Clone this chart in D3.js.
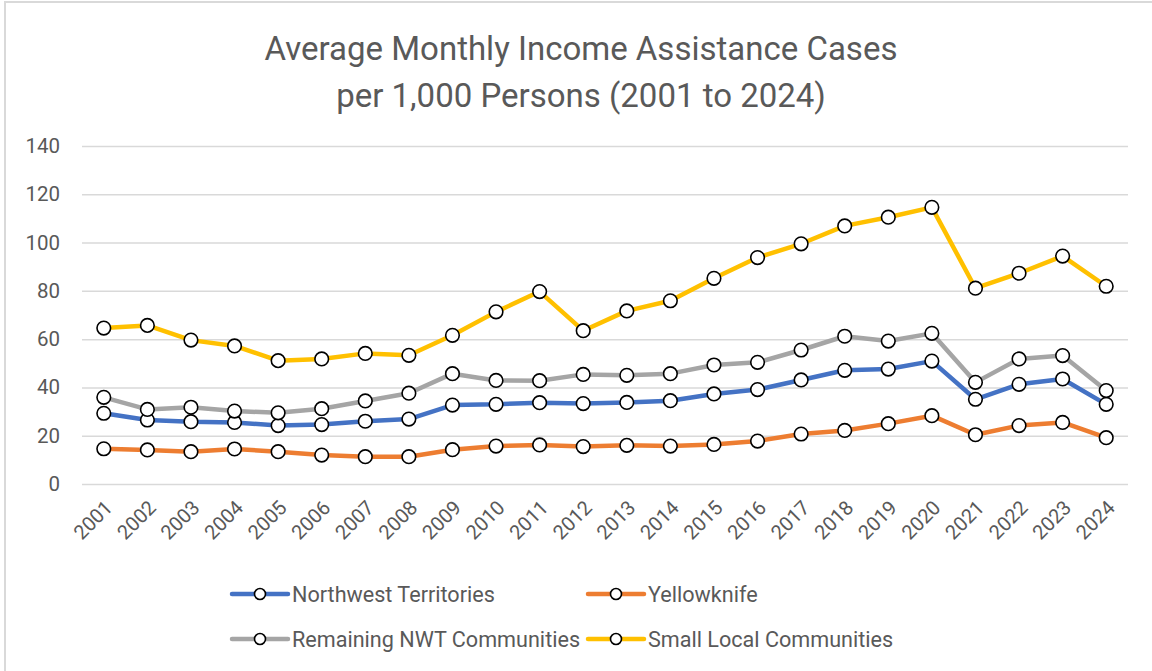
<!DOCTYPE html>
<html lang="en">
<head>
    <meta charset="UTF-8">
    <script src="https://d3js.org/d3.v7.min.js"></script>
    <title>Income Assistance Cases</title>
    <style>
        body { margin: 0; background: #fff; }
        text { font-family: Roboto, "Liberation Sans", sans-serif; fill: #595959; }
    </style>
</head>
<body>
    <div id="chart"></div>
<script>
    const years = ["2001","2002","2003","2004","2005","2006","2007","2008","2009","2010","2011","2012",
                   "2013","2014","2015","2016","2017","2018","2019","2020","2021","2022","2023","2024"];
    const nwt       = [29.3,26.5,25.8,25.5,24.2,24.6,26.0,26.9,32.7,33.0,33.7,33.3,33.8,34.5,37.3,39.1,43.1,47.1,47.6,50.9,35.1,41.3,43.5,33.0];
    const yknife    = [14.6,14.1,13.4,14.5,13.4,12.0,11.3,11.3,14.2,15.7,16.2,15.5,16.0,15.7,16.4,17.8,20.7,22.2,25.0,28.3,20.4,24.2,25.5,19.2];
    const remaining = [35.9,30.9,31.8,30.2,29.5,31.2,34.4,37.6,45.7,42.9,42.8,45.4,45.0,45.7,49.3,50.4,55.5,61.2,59.2,62.4,42.1,51.8,53.2,38.7];
    const small     = [64.6,65.7,59.6,57.2,51.1,51.8,54.1,53.3,61.6,71.3,79.7,63.5,71.7,75.9,85.2,93.8,99.5,106.9,110.5,114.6,81.1,87.3,94.4,81.9];
    const yTicks = [0,20,40,60,80,100,120,140];

    const seriesNames = ["Northwest Territories","Yellowknife","Remaining NWT Communities","Small Local Communities"];
    const seriesData = [nwt, yknife, remaining, small];
    const colors = ["#4472C4","#ED7D31","#A5A5A5","#FFC000"];

    const W = 1152, H = 671;
    const svg = d3.select("#chart").append("svg").attr("width", W).attr("height", H);

    // chart border (only top & left visible)
    svg.append("rect").attr("x", 5).attr("y", 2).attr("width", 1200).attr("height", 700)
       .attr("fill", "none").attr("stroke", "#d9d9d9").attr("stroke-width", 2);

    // title
    const title = svg.append("text").attr("text-anchor", "middle").style("font-size", "33px");
    title.append("tspan").attr("x", 581).attr("y", 60).text("Average Monthly Income Assistance Cases");
    title.append("tspan").attr("x", 581).attr("y", 107).text("per 1,000 Persons (2001 to 2024)");

    const x = d3.scalePoint().domain(years).range([82, 1128]).padding(0.5);
    const y = d3.scaleLinear().domain([0, 140]).range([484, 146]);

    // gridlines + y labels
    const yAxis = svg.append("g").attr("transform", "translate(82,0)")
        .call(d3.axisLeft(y).tickValues(yTicks).tickSize(-(1128 - 82)).tickPadding(22));
    yAxis.select(".domain").remove();
    yAxis.selectAll(".tick line").attr("stroke", "#d9d9d9").attr("stroke-width", 1.5);
    yAxis.selectAll(".tick text").style("font-size", "20.5px").attr("fill", "#595959")
         .style("font-family", "Roboto, sans-serif");

    // x labels
    svg.append("g").selectAll("text").data(years).enter().append("text")
       .attr("text-anchor", "end")
       .attr("transform", d => "translate(" + (x(d) + 5) + ",504) rotate(-45)")
       .attr("dy", "0.35em")
       .style("font-size", "20px")
       .text(d => d);

    const line = d3.line().x((d, i) => x(years[i])).y(d => y(d));

    seriesData.forEach((vals, k) => {
        svg.append("path").datum(vals)
           .attr("d", line)
           .attr("fill", "none")
           .attr("stroke", colors[k])
           .attr("stroke-width", 4.5)
           .attr("stroke-linejoin", "round");
    });
    seriesData.forEach((vals, k) => {
        svg.append("g").selectAll("circle").data(vals).enter().append("circle")
           .attr("cx", (d, i) => x(years[i]))
           .attr("cy", d => y(d))
           .attr("r", 6.8)
           .attr("fill", "#fff")
           .attr("stroke", "#000")
           .attr("stroke-width", 1.6);
    });

    // legend
    const legendPos = [[232, 594], [588, 594], [232, 639], [588, 639]];
    seriesNames.forEach((name, k) => {
        const g = svg.append("g").attr("transform", "translate(" + legendPos[k][0] + "," + legendPos[k][1] + ")");
        g.append("line").attr("x1", 0).attr("x2", 56).attr("y1", 0).attr("y2", 0)
         .attr("stroke", colors[k]).attr("stroke-width", 4.5).attr("stroke-linecap", "round");
        g.append("circle").attr("cx", 28).attr("cy", 0).attr("r", 5.5)
         .attr("fill", "#fff").attr("stroke", "#000").attr("stroke-width", 1.6);
        g.append("text").attr("x", 60).attr("y", 0).attr("dy", "0.35em")
         .style("font-size", "21.6px").text(name);
    });
</script>
</body>
</html>
